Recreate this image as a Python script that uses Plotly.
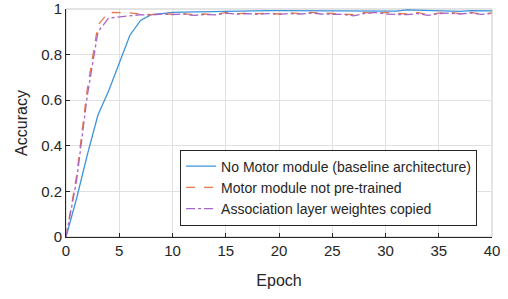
import plotly.graph_objects as go

epochs = list(range(0, 41))
baseline = [0, 0.17, 0.36, 0.535, 0.64, 0.765, 0.885, 0.95, 0.975, 0.98,
            0.985, 0.986, 0.987, 0.988, 0.989, 0.992, 0.993, 0.993, 0.993, 0.993,
            0.993, 0.993, 0.993, 0.993, 0.993, 0.993, 0.993, 0.993, 0.992, 0.99,
            0.99, 0.991, 0.996, 0.995, 0.994, 0.993, 0.99, 0.99, 0.993, 0.993, 0.992]
not_pretrained = [0, 0.27, 0.65, 0.93, 0.985, 0.985, 0.983, 0.978, 0.975, 0.98,
                  0.977, 0.98, 0.975, 0.978, 0.975, 0.985, 0.978, 0.982, 0.98, 0.982,
                  0.978, 0.983, 0.98, 0.985, 0.982, 0.98, 0.978, 0.975, 0.985, 0.98,
                  0.985, 0.98, 0.978, 0.985, 0.975, 0.982, 0.985, 0.98, 0.985, 0.978, 0.983]
copied = [0, 0.25, 0.62, 0.9, 0.96, 0.965, 0.97, 0.975, 0.973, 0.978,
          0.975, 0.978, 0.972, 0.976, 0.974, 0.982, 0.978, 0.98, 0.977, 0.98,
          0.976, 0.98, 0.978, 0.982, 0.978, 0.977, 0.976, 0.97, 0.98, 0.985,
          0.978, 0.976, 0.975, 0.98, 0.972, 0.98, 0.982, 0.978, 0.983, 0.976, 0.98]
names = ["No Motor module (baseline architecture)",
         "Motor module not pre-trained",
         "Association layer weightes copied"]
x_ticks = [0, 5, 10, 15, 20, 25, 30, 35, 40]
y_ticks = [0, 0.2, 0.4, 0.6, 0.8, 1]
y_tick_labels = ["0", "0.2", "0.4", "0.6", "0.8", "1"]

fig = go.Figure()
fig.add_trace(go.Scatter(x=epochs, y=baseline, mode="lines", name=names[0],
                         line=dict(color="#3d93dc", width=1.3)))
fig.add_trace(go.Scatter(x=epochs, y=not_pretrained, mode="lines", name=names[1],
                         line=dict(color="#e57a4a", width=1.3, dash="dash")))
fig.add_trace(go.Scatter(x=epochs, y=copied, mode="lines", name=names[2],
                         line=dict(color="#a864c6", width=1.3, dash="dashdot")))

axis_common = dict(showgrid=True, gridcolor="#e0e0e0", gridwidth=1,
                   showline=True, linecolor="#262626", linewidth=1,
                   ticks="inside", ticklen=4, tickcolor="#262626",
                   tickfont=dict(size=15, color="#262626"),
                   zeroline=False, automargin=False)

fig.update_layout(
    width=508, height=299,
    margin=dict(l=66, r=16, t=9, b=62),
    paper_bgcolor="white", plot_bgcolor="white",
    font=dict(family="Liberation Sans, Arial, sans-serif", color="#262626"),
    xaxis=dict(range=[0, 40], tickvals=x_ticks,
               title=dict(text="Epoch", font=dict(size=16), standoff=16),
               **axis_common),
    yaxis=dict(range=[0, 1], tickvals=y_ticks, ticktext=y_tick_labels,
               title=dict(text="Accuracy", font=dict(size=16), standoff=9),
               **axis_common),
    legend=dict(x=0.965, y=0.05, xanchor="right", yanchor="bottom",
                bgcolor="white", bordercolor="#262626", borderwidth=1,
                font=dict(size=14, color="#262626"), tracegroupgap=0),
    shapes=[dict(type="rect", xref="paper", yref="paper", x0=0, x1=1, y0=0, y1=1,
                 line=dict(color="#c8c8c8", width=1), layer="below")],
    showlegend=True,
)

fig.write_html("out.html", config={"displayModeBar": False},
               post_script="document.body.style.margin='0';document.body.style.overflow='hidden';")
